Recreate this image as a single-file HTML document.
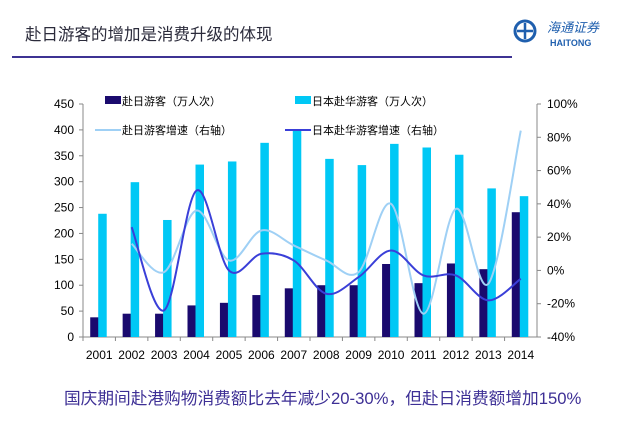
<!DOCTYPE html>
<html><head><meta charset="utf-8"><style>
body{margin:0;width:640px;height:433px;background:#fff;overflow:hidden;font-family:"Liberation Sans","Noto Sans CJK SC",sans-serif;position:relative}
.t{position:absolute;left:25px;top:21px;font-size:16.5px;color:#2b2b3b}
.rule{position:absolute;left:12px;top:56px;width:500px;height:2px;background:#3d3393}
.foot{position:absolute;left:64px;top:385px;font-size:16.7px;color:#3d2f95;white-space:nowrap}
</style></head><body>
<div class="t">赴日游客的增加是消费升级的体现</div>
<div class="rule"></div>
<div style="position:absolute;left:512px;top:16px;width:110px;height:34px">
<svg width="110" height="34"><circle cx="13" cy="15" r="10" fill="none" stroke="#1f5fae" stroke-width="3"/><path d="M5 15h16M13 7v16" stroke="#1f5fae" stroke-width="2.5"/>
<text x="35" y="16" font-size="13" fill="#1f5fae" font-family="Noto Sans CJK SC,sans-serif" font-style="italic">海通证券</text>
<text x="38" y="30" font-size="9" font-weight="bold" fill="#1f5fae" font-family="Liberation Sans,sans-serif">HAITONG</text></svg></div>
<svg id="c" width="640" height="433" style="position:absolute;left:0;top:0"></svg>
<div class="foot">国庆期间赴港购物消费额比去年减少20-30%，但赴日消费额增加150%</div>
<script>
const years=["2001","2002","2003","2004","2005","2006","2007","2008","2009","2010","2011","2012","2013","2014"];
const toJapan=[38,45,45,61,66,81,94,100,100,141,104,142,131,241];
const toChina=[238,299,226,333,339,375,398,344,332,373,366,352,287,272];
const toJapanGrowth=[null,16,-1,36,6,24,15,6,-1,40,-26,37,-8,84];
const toChinaGrowth=[null,26,-24,48,0,10,6,-14,-4,12,-3,-3,-18,-5];
const leftTicks=[0,50,100,150,200,250,300,350,400,450];
const rightTicks=[-40,-20,0,20,40,60,80,100];
const NS="http://www.w3.org/2000/svg",svg=document.getElementById('c');
const X0=83,X1=537,Y0=337,Y1=104,step=(X1-X0)/years.length;
const xc=i=>X0+step*(i+0.5);
const yl=v=>Y0-(v/450)*(Y0-Y1);
const yr=v=>Y0-((v+40)/140)*(Y0-Y1);
function mk(t,a,p){const e=document.createElementNS(NS,t);for(const k in a)e.setAttribute(k,a[k]);(p||svg).appendChild(e);return e;}
mk('line',{x1:X0,y1:Y1,x2:X0,y2:Y0,stroke:'#888'});mk('line',{x1:X1,y1:Y1,x2:X1,y2:Y0,stroke:'#888'});
mk('line',{x1:X0,y1:Y0,x2:X1,y2:Y0,stroke:'#888'});
leftTicks.forEach(v=>{const y=yl(v);mk('line',{x1:X0-4,y1:y,x2:X0,y2:y,stroke:'#888'});
const t=mk('text',{x:X0-9,y:y+4,'text-anchor':'end','font-size':12,fill:'#000'});t.textContent=v;
});
rightTicks.forEach(v=>{const y=yr(v);mk('line',{x1:X1,y1:y,x2:X1+4,y2:y,stroke:'#888'});
const t=mk('text',{x:X1+10,y:y+4,'font-size':12,fill:'#000'});t.textContent=v+'%';
});
years.forEach((yv,i)=>{mk('line',{x1:X0+step*i,y1:Y0,x2:X0+step*i,y2:Y0+4,stroke:'#888'});
const t=mk('text',{x:xc(i),y:Y0+22,'text-anchor':'middle','font-size':12,fill:'#000'});t.textContent=yv;

const b1=mk('rect',{x:xc(i)-9,y:yl(toJapan[i]),width:8.5,height:Y0-yl(toJapan[i]),fill:'#1a0a6e'});

const v2=Math.min(toChina[i],450);
const b2=mk('rect',{x:xc(i)-1,y:yl(v2),width:8.5,height:Y0-yl(v2),fill:'#00c8f5'});
});
function curve(arr,col,w,name){const p=[];arr.forEach((v,i)=>{if(v!==null)p.push([xc(i),yr(v)]);});
let d='M'+p[0][0]+','+p[0][1];
for(let i=0;i<p.length-1;i++){const a=p[i-1]||p[i],b=p[i],c=p[i+1],e=p[i+2]||c;
d+=` C${b[0]+(c[0]-a[0])/6},${b[1]+(c[1]-a[1])/6} ${c[0]-(e[0]-b[0])/6},${c[1]-(e[1]-b[1])/6} ${c[0]},${c[1]}`;}
const l=mk('path',{d:d,fill:'none',stroke:col,'stroke-width':w});
}
curve(toJapanGrowth,'#9fd0f5',2,'line-to-japan-growth');
curve(toChinaGrowth,'#3a3fd8',2,'line-to-china-growth');
const leg=[[105,101,'rect','#1a0a6e','赴日游客（万人次）'],[295,101,'rect','#00c8f5','日本赴华游客（万人次）'],[105,130,'line','#9fd0f5','赴日游客增速（右轴）'],[295,130,'line','#3a3fd8','日本赴华游客增速（右轴）']];
leg.forEach(g=>{if(g[2]=='rect')mk('rect',{x:g[0],y:g[1]-5,width:16,height:8,fill:g[3]});
else mk('line',{x1:g[0]-10,y1:g[1],x2:g[0]+16,y2:g[1],stroke:g[3],'stroke-width':2});
const t=mk('text',{x:g[0]+17,y:g[1]+4,'font-size':11,fill:'#000'});t.textContent=g[4];
});
</script>
</body></html>
